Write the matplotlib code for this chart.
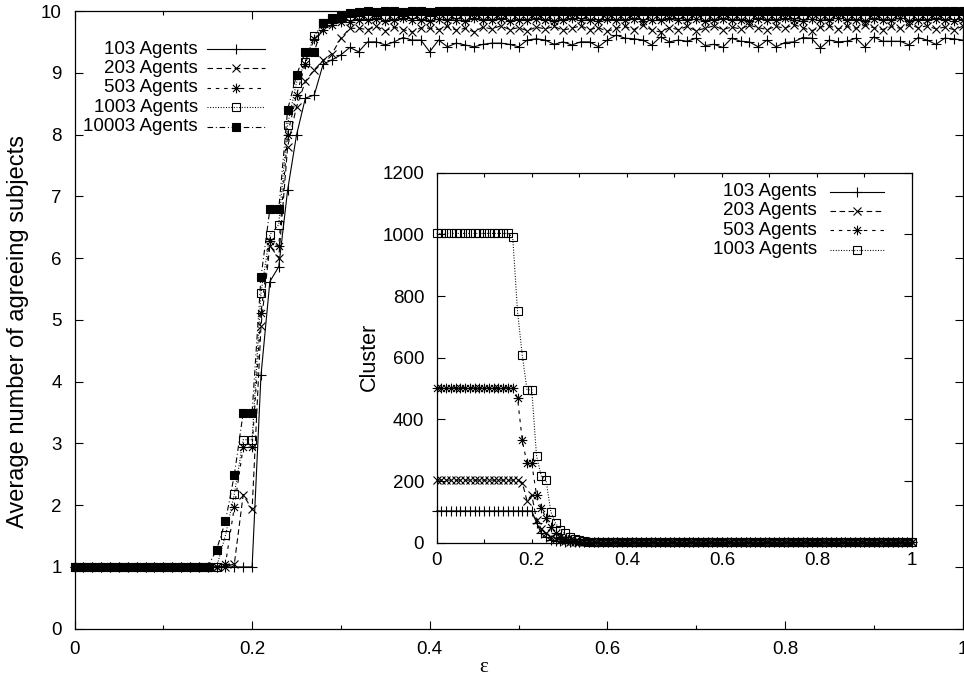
import numpy as np
import matplotlib
matplotlib.use("Agg")
import matplotlib.pyplot as plt
from matplotlib.lines import Line2D
from matplotlib.path import Path
from matplotlib.ticker import MultipleLocator

plt.rcParams['font.family'] = ['Liberation Sans', 'DejaVu Sans']
plt.rcParams['font.size'] = 13.5
plt.rcParams['lines.scale_dashes'] = False

# ---------------- data ----------------
eps = np.linspace(0.0, 1.0, 101)

labels_main = ["103 Agents", "203 Agents", "503 Agents", "1003 Agents", "10003 Agents"]

agree_103 = ([1.0] * 21 +
             [4.10, 5.62, 5.86, 7.10, 7.99, 8.59, 8.64, 9.14, 9.21, 9.29, 9.41, 9.34] +
             [9.50, 9.50, 9.45, 9.50, 9.57, 9.53, 9.53, 9.34] +
             [9.53, 9.42, 9.48, 9.45, 9.42, 9.46, 9.48, 9.48, 9.46, 9.42] +
             [9.53, 9.55, 9.53, 9.46, 9.50, 9.45, 9.50, 9.50, 9.42, 9.53] +
             [9.61, 9.56, 9.55, 9.53, 9.45, 9.58, 9.50, 9.53, 9.51, 9.56] +
             [9.44, 9.46, 9.41, 9.56, 9.51, 9.50, 9.42, 9.53, 9.42, 9.49] +
             [9.50, 9.57, 9.56, 9.40, 9.53, 9.50, 9.51, 9.56, 9.42, 9.58] +
             [9.51, 9.51, 9.51, 9.45, 9.57, 9.53, 9.46, 9.56, 9.55, 9.53])

agree_203 = ([1.0] * 18 +
             [1.05, 2.17, 1.93, 4.90, 6.20, 6.00, 7.80, 8.45, 8.86, 9.05, 9.20, 9.31, 9.56, 9.72] +
             [9.72, 9.70, 9.75, 9.68, 9.74, 9.70, 9.66, 9.73, 9.72] +
             [9.70, 9.75, 9.69, 9.72, 9.66, 9.74, 9.71, 9.76, 9.70, 9.73] +
             [9.68, 9.74, 9.71, 9.75, 9.69, 9.72, 9.76, 9.70, 9.73, 9.67] +
             [9.72, 9.75, 9.70, 9.78, 9.69, 9.66, 9.73, 9.70, 9.75, 9.68] +
             [9.72, 9.76, 9.70, 9.74, 9.71, 9.77, 9.73, 9.70, 9.75, 9.72] +
             [9.78, 9.73, 9.68, 9.74, 9.76, 9.71, 9.75, 9.72, 9.77, 9.73] +
             [9.70, 9.75, 9.72, 9.78, 9.73, 9.76, 9.71, 9.74, 9.70, 9.75])

agree_503 = ([1.0] * 17 +
             [1.05, 1.97, 2.94, 2.94, 5.11, 6.27, 6.19, 8.00, 8.64, 9.15, 9.55, 9.70, 9.77, 9.82] +
             [9.83, 9.86, 9.85, 9.87, 9.84, 9.86, 9.88, 9.85, 9.86, 9.84] +
             [9.87, 9.85, 9.86, 9.84, 9.88, 9.85, 9.86, 9.87, 9.84, 9.86] +
             [9.85, 9.87, 9.86, 9.84, 9.86, 9.88, 9.85, 9.86, 9.84, 9.87] +
             [9.86, 9.85, 9.87, 9.84, 9.86, 9.85, 9.88, 9.86, 9.85, 9.87] +
             [9.84, 9.86, 9.87, 9.85, 9.86, 9.84, 9.87, 9.86, 9.85, 9.88] +
             [9.86, 9.84, 9.87, 9.85, 9.86, 9.88, 9.85, 9.86, 9.84, 9.87] +
             [9.85, 9.86, 9.88, 9.84, 9.86, 9.85, 9.87, 9.86, 9.84, 9.86])

agree_1003 = ([1.0] * 17 +
              [1.51, 2.18, 3.06, 3.06, 5.43, 6.38, 6.54, 8.16, 8.84, 9.18, 9.60, 9.80, 9.87, 9.90] +
              [9.92, 9.94, 9.93, 9.95, 9.92, 9.94, 9.93, 9.95, 9.94, 9.92] +
              [9.94, 9.93, 9.95, 9.92, 9.94, 9.93, 9.94, 9.95, 9.92, 9.94] +
              [9.93, 9.95, 9.94, 9.92, 9.94, 9.93, 9.95, 9.94, 9.93, 9.92] +
              [9.94, 9.93, 9.95, 9.94, 9.92, 9.94, 9.93, 9.95, 9.94, 9.93] +
              [9.92, 9.94, 9.95, 9.93, 9.94, 9.92, 9.95, 9.94, 9.93, 9.94] +
              [9.95, 9.93, 9.94, 9.92, 9.94, 9.95, 9.93, 9.94, 9.92, 9.95] +
              [9.93, 9.94, 9.95, 9.92, 9.94, 9.93, 9.95, 9.94, 9.93, 9.94])

agree_10003 = ([1.0] * 16 +
               [1.28, 1.74, 2.49, 3.50, 3.50, 5.69, 6.79, 6.79, 8.40, 8.96, 9.34, 9.34, 9.80, 9.88, 9.92, 9.97] +
               [9.99, 10.0, 9.99, 10.0, 10.0, 9.99, 10.0, 10.0, 9.99] +
               [10.0] * 60)

clusters_103 = [103] * 21 + [65, 30, 18, 10, 6, 4, 3, 2] + [1] * 72
clusters_203 = [203] * 18 + [195, 136, 155, 74, 45, 30, 20, 13, 8, 5, 3, 2] + [1] * 71
clusters_503 = [503] * 17 + [470, 332, 257, 257, 155, 112, 80, 50, 30, 20, 13, 8, 5, 3, 2] + [1] * 69
clusters_1003 = [1003] * 16 + [990, 751, 608, 496, 496, 282, 216, 203, 101, 63, 42, 30, 20,
                               12, 8, 5, 3, 2] + [1] * 67

main_series = [agree_103, agree_203, agree_503, agree_1003, agree_10003]
inset_series = [clusters_103, clusters_203, clusters_503, clusters_1003]

# ---------------- styles ----------------
star_path = Path([(-1, 0), (1, 0), (0, -1), (0, 1),
                  (-0.72, -0.72), (0.72, 0.72), (-0.72, 0.72), (0.72, -0.72)],
                 [Path.MOVETO, Path.LINETO] * 4)

LW = 0.8
styles = [
    dict(linestyle='-', marker='+', markersize=7.0, mfc='none'),
    dict(linestyle=(0, (4, 2.5)), marker='x', markersize=5.5, mfc='none'),
    dict(linestyle=(0, (2.5, 3.5)), marker=star_path, markersize=7.0, mfc='none'),
    dict(linestyle=(0, (0.7, 1.2)), marker='s', markersize=5.6, mfc='none'),
    dict(linestyle=(0, (4, 2, 0.7, 2)), marker='s', markersize=5.6, mfc='black'),
]

W, H = 964, 690
fig = plt.figure(figsize=(W / 100, H / 100), dpi=100)

# ---------------- main axes ----------------
ax = fig.add_axes([74.5 / W, (H - 628.7) / H, 888 / W, (628.7 - 11) / H])
for vals, st in zip(main_series, styles):
    ax.plot(eps, vals, color='black', lw=LW, mec='black', mew=0.8, clip_on=False, **st)
ax.set_xlim(0, 1)
ax.set_ylim(0, 10)
ax.xaxis.set_minor_locator(MultipleLocator(0.1))
ax.yaxis.set_major_locator(MultipleLocator(1))
ax.set_xticks([0, 0.2, 0.4, 0.6, 0.8, 1.0])
ax.set_xticklabels(["0", "0.2", "0.4", "0.6", "0.8", "1"])
ax.tick_params(which='both', direction='in', top=True, right=True, width=0.8, pad=9)
ax.tick_params(which='major', length=6)
ax.tick_params(which='minor', length=3.2)
for s in ax.spines.values():
    s.set_linewidth(0.9)

fig.text(18 / W, 1 - 331 / H, "Average number of agreeing subjects", rotation=90,
         ha='center', va='center', fontsize=17)
fig.text(484 / W, 1 - 668 / H, "ε", ha='center', va='center',
         family=['Liberation Serif', 'DejaVu Serif'], fontsize=15)

# ---------------- inset axes ----------------
ins = fig.add_axes([436.7 / W, (H - 542.7) / H, (912 - 436.7) / W, (542.7 - 172.7) / H])
ins.set_facecolor('white')
for vals, st in zip(inset_series, styles[:4]):
    ins.plot(eps, vals, color='black', lw=LW, mec='black', mew=0.8, clip_on=False, **st)
ins.set_xlim(0, 1)
ins.set_ylim(0, 1200)
ins.set_xticks([0, 0.2, 0.4, 0.6, 0.8, 1.0])
ins.set_xticklabels(["0", "0.2", "0.4", "0.6", "0.8", "1"])
ins.xaxis.set_minor_locator(MultipleLocator(0.1))
ins.yaxis.set_major_locator(MultipleLocator(200))
ins.tick_params(which='both', direction='in', top=True, right=True, width=0.8)
ins.tick_params(axis='x', which='both', length=3.2, pad=6.5)
ins.tick_params(axis='y', which='major', length=6, pad=9)
for s in ins.spines.values():
    s.set_linewidth(0.9)
fig.text(369 / W, 1 - 357 / H, "Cluster", rotation=90, ha='center', va='center', fontsize=15.5)


# ---------------- legends (gnuplot style: text right-aligned, sample on the right) ----------------
def legend_entry(x_text, x0, x1, y, label, st):
    yf = 1 - y / H
    fig.text(x_text / W, yf, label, ha='right', va='center')
    fig.add_artist(Line2D([x0 / W, x1 / W], [yf, yf], transform=fig.transFigure,
                          color='black', lw=LW, linestyle=st['linestyle']))
    fig.add_artist(Line2D([(x0 + x1) / 2 / W], [yf], transform=fig.transFigure,
                          color='black', linestyle='none', marker=st['marker'],
                          markersize=st['markersize'], mfc=st['mfc'], mec='black', mew=0.8))


for i, (lab, st) in enumerate(zip(labels_main, styles)):
    legend_entry(198, 207, 265, 49 + 19.4 * i, lab, st)

for i, (lab, st) in enumerate(zip(labels_main[:4], styles[:4])):
    legend_entry(816.7, 830, 884, 191.7 + 19.3 * i, lab, st)

fig.savefig("out.png", dpi=100)
